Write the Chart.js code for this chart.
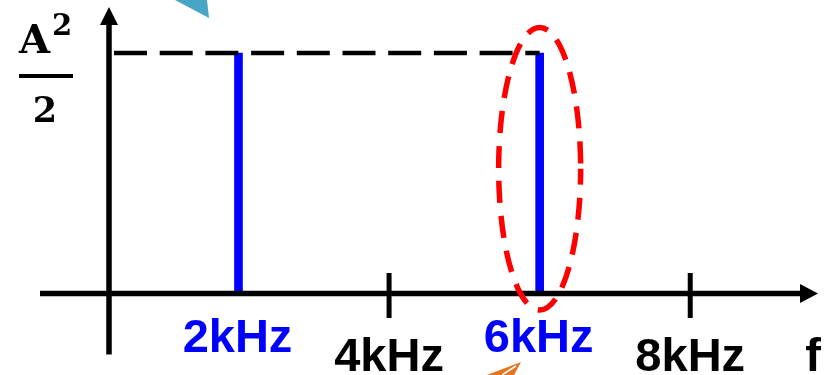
<!DOCTYPE html>
<html><head><meta charset="utf-8">
<script src="https://cdn.jsdelivr.net/npm/chart.js@4/dist/chart.umd.min.js"></script>
<style>html,body{margin:0;padding:0;background:#fff;overflow:hidden}#wrap{width:825px;height:375px;position:relative}</style>
</head><body><div id="wrap"><canvas id="c" width="825" height="375"></canvas></div>
<script>
// ---- data ----
const barFreqs = [2, 6];                 // kHz
const barValues = [1, 1];                // in units of A^2/2
const barLabels = ['2kHz', '6kHz'];
const tickFreqs = [4, 8];                // kHz
const tickLabels = ['4kHz', '8kHz'];
const axisName = 'f';
const yLabelBase = 'A', yLabelSup = '2', yLabelDen = '2';
const freqRange = [0.28, 9.79];          // visible frequency span (kHz)
const valueRange = [-0.339, 1.2204];     // visible value span

const decor = {
  id: 'decor',
  beforeDraw(chart) {
    const ctx = chart.ctx;
    ctx.save();
    ctx.fillStyle = '#fff';
    ctx.fillRect(0, 0, chart.width, chart.height);
    ctx.restore();
  },
  afterDatasetsDraw(chart) {
    const { ctx, chartArea: ca, scales: { x, y } } = chart;
    const y0 = y.getPixelForValue(0);
    const yTop = y.getPixelForValue(barValues[1]);
    const xa = ca.left;
    const W = chart.width;
    ctx.save();
    ctx.strokeStyle = '#000'; ctx.fillStyle = '#000'; ctx.lineCap = 'butt';
    ctx.lineWidth = 5.5;
    // x axis with arrow
    ctx.beginPath(); ctx.moveTo(40, y0); ctx.lineTo(W - 22, y0); ctx.stroke();
    ctx.beginPath(); ctx.moveTo(W - 7, y0); ctx.lineTo(W - 25, y0 - 9.5); ctx.lineTo(W - 25, y0 + 9.5); ctx.closePath(); ctx.fill();
    // y axis with arrow
    ctx.beginPath(); ctx.moveTo(xa, y0 + 61); ctx.lineTo(xa, 22); ctx.stroke();
    ctx.beginPath(); ctx.moveTo(xa, 7); ctx.lineTo(xa - 9, 25); ctx.lineTo(xa + 9, 25); ctx.closePath(); ctx.fill();
    // ticks
    ctx.lineWidth = 5;
    tickFreqs.forEach(f => {
      const px = x.getPixelForValue(f);
      ctx.beginPath(); ctx.moveTo(px, y0 - 20.5); ctx.lineTo(px, y0 + 24.5); ctx.stroke();
    });
    // tick labels
    ctx.font = 'bold 47px "Liberation Sans", Arial, sans-serif';
    ctx.textAlign = 'center'; ctx.textBaseline = 'alphabetic';
    ctx.fillStyle = '#0000FF';
    barFreqs.forEach((f, i) => ctx.fillText(barLabels[i], x.getPixelForValue(f) - 1, y0 + 58.5));
    ctx.fillStyle = '#000';
    tickFreqs.forEach((f, i) => ctx.fillText(tickLabels[i], x.getPixelForValue(f), y0 + 78));
    ctx.fillText(axisName, W - 12, y0 + 78);
    // y label A^2 / 2
    ctx.textAlign = 'left';
    ctx.font = 'bold 40px "DejaVu Serif", serif';
    ctx.fillText(yLabelBase, 19, 53);
    ctx.font = 'bold 29px "DejaVu Serif", serif';
    ctx.fillText(yLabelSup, 52, 35);
    ctx.fillRect(19, 74, 54, 4);
    ctx.textAlign = 'center';
    ctx.font = 'bold 35px "DejaVu Serif", serif';
    ctx.fillText(yLabelDen, 45, 122);
    // red dashed ellipse around the 6 kHz line
    const cx = x.getPixelForValue(barFreqs[1]);
    const cy = (y0 + yTop) / 2 - 4.5;
    const ry = (y0 - yTop) / 2 + 21;
    ctx.strokeStyle = '#FF0000'; ctx.lineWidth = 5.5;
    ctx.setLineDash([22, 13]); ctx.lineDashOffset = 6;
    ctx.beginPath(); ctx.ellipse(cx, cy, 41, ry, 0, 0, Math.PI * 2); ctx.stroke();
    ctx.setLineDash([]);
    // partial callout arrows at edges
    ctx.fillStyle = '#47A5C5';
    ctx.beginPath(); ctx.moveTo(175, 0); ctx.lineTo(207, 0); ctx.lineTo(209, 18); ctx.closePath(); ctx.fill();
    ctx.fillStyle = '#E8731A';
    ctx.beginPath(); ctx.moveTo(487, 375); ctx.lineTo(521, 362); ctx.lineTo(514, 375); ctx.closePath(); ctx.fill();
    ctx.strokeStyle = '#fff'; ctx.lineWidth = 1.5;
    ctx.beginPath(); ctx.moveTo(502, 375); ctx.lineTo(516, 366); ctx.stroke();
    ctx.restore();
  }
};

new Chart(document.getElementById('c'), {
  type: 'bar',
  data: {
    datasets: [
      {
        type: 'bar',
        data: barFreqs.map((f, i) => ({ x: f, y: barValues[i] })),
        backgroundColor: '#0000FF',
        barThickness: 8,
        order: 2
      },
      {
        type: 'line',
        data: [{ x: freqRange[0], y: barValues[1] }, { x: barFreqs[1], y: barValues[1] }],
        borderColor: '#000',
        borderWidth: 4.5,
        borderDash: [33, 12.7],
        borderDashOffset: 40.7,
        pointRadius: 0,
        fill: false,
        order: 1
      }
    ]
  },
  options: {
    responsive: false,
    animation: false,
    devicePixelRatio: 1,
    layout: { padding: { left: 109, right: 0, top: 0, bottom: 0 } },
    plugins: { legend: { display: false }, tooltip: { enabled: false }, title: { display: false } },
    scales: {
      x: { type: 'linear', offset: false, grid: { offset: false }, min: freqRange[0], max: freqRange[1], display: false },
      y: { type: 'linear', min: valueRange[0], max: valueRange[1], display: false }
    }
  },
  plugins: [decor]
});
</script>
</body></html>
